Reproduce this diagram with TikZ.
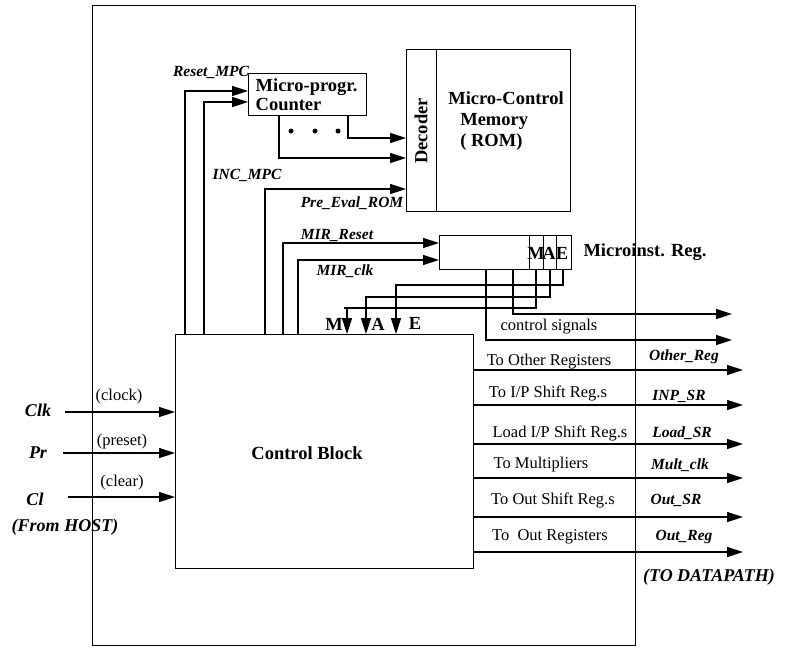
\documentclass[tikz,border=0pt]{standalone}
\usepackage{fontspec}
\setmainfont{Liberation Serif}
\usetikzlibrary{arrows.meta,calc}
\begin{document}
\begin{tikzpicture}[x=1pt,y=-1pt,
 blk/.style={draw,line width=1.3pt,inner sep=0pt,anchor=north west},
 wire/.style={line width=1.4pt},
 sig/.style={line width=1.5pt,-{Triangle[length=16pt,width=10pt]}},
 btxt/.style={font=\fontsize{18.5}{19}\selectfont\bfseries,inner sep=0pt},
 rtxt/.style={font=\fontsize{16.5}{19}\selectfont,inner sep=0pt},
 itxt/.style={font=\fontsize{15.5}{18}\selectfont\bfseries\itshape,inner sep=0pt},
 htxt/.style={font=\fontsize{18}{20}\selectfont\bfseries\itshape,inner sep=0pt},
 dot/.style={circle,fill,inner sep=0pt,minimum size=5pt}
]
\useasboundingbox (0,0) rectangle (788,649);
\fill[white] (0,0) rectangle (788,649);
% outer frame
\node[draw,line width=0.9pt,anchor=north west,minimum width=543pt,minimum height=640pt,inner sep=0pt] (outer) at (92,5) {};

% blocks
\node[blk,minimum width=118pt,minimum height=42pt,btxt,align=left,anchor=north west,text width=104pt] (cnt) at (248,73) {Micro-progr.\\Counter};
\node[blk,minimum width=30pt,minimum height=162pt] (dec) at (406,49) {};
\node[btxt,rotate=90] (dectxt) at (421,131) {Decoder};
\node[blk,minimum width=134pt,minimum height=162pt] (rom) at (436,49) {};
\node[btxt,align=left] (romtxt) at (506,121) {Micro-Control\\[2pt]\hspace*{12pt}Memory\\[2pt]\hspace*{12pt}( ROM)};

\node[blk,minimum width=132pt,minimum height=34pt] (mir) at (439,235) {};
\node[blk,minimum width=14pt,minimum height=34pt] (cm) at (529,235) {};
\node[blk,minimum width=13pt,minimum height=34pt] (ca) at (543,235) {};
\node[blk,minimum width=15pt,minimum height=34pt] (ce) at (556,235) {};
\node[btxt] (lm) at (536,253) {M};
\node[btxt] (la) at (549,253) {A};
\node[btxt] (le) at (562,253) {E};
\node[btxt] (mirtxt) at (645,252) {Microinst. Reg.};

\node[blk,minimum width=298pt,minimum height=234pt] (cb) at (175,334) {};
\node[btxt] (cbtxt) at (307,453) {Control Block};

% signals into counter / decoder
\draw[sig] (cb.north -| 185,0) |- (cnt.west |- 0,91);
\draw[sig] (cb.north -| 204,0) |- (cnt.west |- 0,102);
\draw[sig] (cb.north -| 265,0) |- (dec.west |- 0,189);
\draw[sig] (cnt.south -| 279,0) |- (dec.west |- 0,158);
\draw[sig] (cnt.south -| 348,0) |- (dec.west |- 0,138);
\node[dot] (d1) at (291,131) {};
\node[dot] (d2) at (315,131) {};
\node[dot] (d3) at (338,131) {};
\node[itxt] (lreset) at (211,72) {Reset\_MPC};
\node[itxt] (linc) at (247,175) {INC\_MPC};
\node[itxt] (lpre) at (352,203) {Pre\_Eval\_ROM};

% MIR control
\draw[sig] (cb.north -| 283,0) |- (mir.west |- 0,243);
\draw[sig] (cb.north -| 298,0) |- (mir.west |- 0,260);
\node[itxt] (lmirr) at (337,235) {MIR\_Reset};
\node[itxt] (lmirc) at (345,271) {MIR\_clk};

% M A E feedback
\draw[sig] (ce.south -| 563,0) |- (396,285) -- (cb.north -| 396,0);
\draw[sig] (ca.south -| 550,0) |- (366,297) -- (cb.north -| 366,0);
\draw[sig] (cm.south -| 536,0) |- (344,308) -| (cb.north -| 347,0);
\node[btxt] (tm) at (334,324) {M};
\node[btxt] (ta) at (378,324) {A};
\node[btxt] (te) at (415,323) {E};

% control signals
\coordinate (cs1) at (732,314);
\coordinate (cs2) at (732,340);
\draw[sig] (mir.south -| 513,0) |- (cs1);
\draw[sig] (mir.south -| 486,0) |- (cs2);
\node[rtxt] (lcs) at (549,327) {control signals};

% outputs
\foreach \n/\y in {o1/370,o2/405,o3/444,o4/478,o5/517,o6/552}{
  \coordinate (\n) at (743,\y);
  \draw[sig] (cb.east |- \n) -- (\n);
}
\node[rtxt] (t1) at (549,362) {To Other Registers};
\node[rtxt] (t2) at (548,393) {To I/P Shift Reg.s};
\node[rtxt] (t3) at (560,433) {Load I/P Shift Reg.s};
\node[rtxt] (t4) at (541,465) {To Multipliers};
\node[rtxt] (t5) at (553,500) {To Out Shift Reg.s};
\node[rtxt] (t6) at (550,537) {To\ \ Out Registers};
\node[itxt] (s1) at (684,357) {Other\_Reg};
\node[itxt] (s2) at (679,396) {INP\_SR};
\node[itxt] (s3) at (682,433) {Load\_SR};
\node[itxt] (s4) at (680,465) {Mult\_clk};
\node[itxt] (s5) at (676,500) {Out\_SR};
\node[itxt] (s6) at (684,537) {Out\_Reg};
\node[htxt] (todp) at (709,577) {(TO DATAPATH)};

% inputs
\coordinate (iclk) at (65,412);
\coordinate (ipr) at (63,453);
\coordinate (icl) at (68,497);
\draw[sig] (iclk) -- (cb.west |- iclk);
\draw[sig] (ipr) -- (cb.west |- ipr);
\draw[sig] (icl) -- (cb.west |- icl);
\node[htxt] (lclk) at (38,410) {Clk};
\node[htxt] (lpr) at (38,453) {Pr};
\node[htxt] (lcl) at (35,499) {Cl};
\node[htxt] (lhost) at (65,527) {(From HOST)};
\node[rtxt] (lclock) at (119,397) {(clock)};
\node[rtxt] (lpreset) at (122,442) {(preset)};
\node[rtxt] (lclear) at (122,483) {(clear)};
\end{tikzpicture}
\end{document}
